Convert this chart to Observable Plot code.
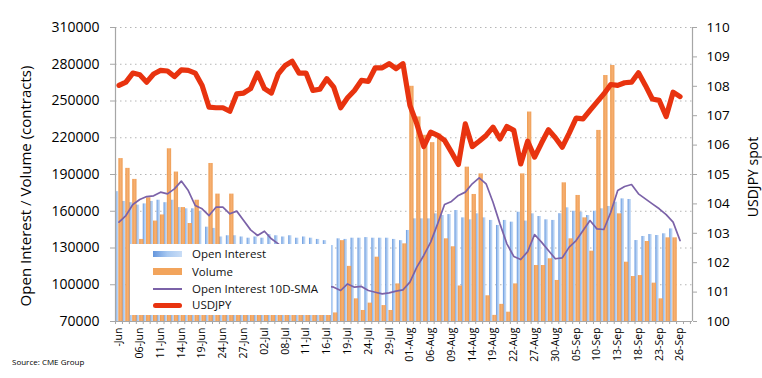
<!DOCTYPE html>
<html><head><meta charset="utf-8">
<script src="https://cdn.jsdelivr.net/npm/d3@7"></script>
<script src="https://cdn.jsdelivr.net/npm/@observablehq/plot@0.6"></script>
<style>
html,body{margin:0;padding:0;background:#fff;overflow:hidden;}
#wrap{position:relative;width:762px;height:378px;font-family:"Open Sans",sans-serif;}
#legend{position:absolute;left:130px;top:244px;width:201px;height:71px;background:#fff;}
.row{position:absolute;left:0;height:16px;width:201px;}
.sw{position:absolute;left:23px;width:29px;}
.lt{position:absolute;left:62px;top:0;font-size:11.5px;line-height:16px;color:#111;white-space:nowrap;}
#source{position:absolute;left:12px;top:356px;font-size:8px;color:#000;}
.ytitle{position:absolute;transform:translate(-50%,-50%) rotate(-90deg);white-space:nowrap;color:#000;line-height:1;}
</style></head>
<body><div id="wrap"></div>
<script>
// Tick labels (every 3rd trading day)
const tickLabels = ["-Jun","06-Jun","11-Jun","14-Jun","19-Jun","24-Jun","27-Jun","02-Jul","08-Jul","11-Jul","16-Jul","19-Jul","24-Jul","29-Jul","01-Aug","06-Aug","09-Aug","14-Aug","19-Aug","22-Aug","27-Aug","30-Aug","05-Sep","10-Sep","13-Sep","18-Sep","23-Sep","26-Sep"];
// Open interest (thousand contracts), one per trading day
const openInterest = [176,168,167,165,166,168,169,167,169,163,162,162,160,
 147,146,139,140,140,139,138,139,138,141,140,139,140,138,139,138,137,136,
 132,137.5,137,138,138,138.5,138,138,138,137,136,
 144.3,153.8,153.8,153.8,157.9,156.5,157.3,160.6,154.6,153,157.9,154.6,152.5,148.4,152.5,151.1,159.2,152,
 157.9,155.7,153,152.5,158,162.8,160,159.2,156.5,160,162,163.9,167.4,170.1,169.6,136.1,139.4,141,140.2,141.6,145.6];
// Volume (thousand contracts)
const volume = [203,195,186,137,171,152,157,211,192,163,150,169,128,
 199,174,120,174,110,105,100,110,98,105,95,90,100,95,88,85,80,78,
 77,136,115,88.5,79,85,122.5,83,79,100.7,133.4,
 262,237,222,216,223,137.5,131,99,196,173.7,190.5,91,75,84,77.6,100.7,190.5,241,
 115.7,115.7,121.2,103.5,183.2,137.5,172.9,154.6,127.4,226,270.8,279,157.9,118.4,106.7,107.5,135.3,101.3,88.5,138.3,138.3];
// Open interest 10D-SMA (thousand contracts)
const sma = [151.1,156.5,165.5,169.6,172.0,172.6,175.6,174.2,178.3,184.6,176.9,164.7,162.0,156.5,163.3,163.3,157.9,160.1,152.4,144.8,140.2,143.7,137.5,133.4,
 128,122,116,110,105,101,99,
 98.0,95.3,100.7,98.0,98.6,95.3,93.9,92.6,93.4,94.8,95.8,102.1,114.4,123.9,134.8,149.7,165.5,168.0,172.9,175.6,182.4,187.3,182.4,167.4,149.7,133.4,123.1,120.6,127,
 141.0,134.8,128.0,121.2,122.0,130.7,136.1,144.3,152.4,145.6,145.1,159.2,176.9,180.2,181.8,174.2,170.1,166.0,162.0,157.3,151.1,136.1];
// USDJPY spot
const usdjpy = [108.03,108.14,108.45,108.39,108.14,108.42,108.54,108.52,108.33,108.56,
 108.54,108.45,108.03,107.29,107.27,107.27,107.15,107.74,107.77,107.92,
 108.45,107.92,107.77,108.42,108.71,108.85,108.45,108.45,107.86,107.90,
 108.26,107.97,107.27,107.61,107.86,108.20,108.17,108.63,108.63,108.77,
 108.60,108.77,107.35,106.72,105.95,106.44,106.33,106.16,105.76,105.34,
 106.72,105.95,106.13,106.33,106.61,106.21,106.63,106.50,105.36,106.13,
 105.59,106.07,106.52,106.25,105.93,106.41,106.92,106.89,107.18,107.46,
 107.74,108.06,108.03,108.12,108.14,108.46,108.03,107.57,107.52,106.97,
 107.80,107.65];
const leftTicks = [70000,100000,130000,160000,190000,220000,250000,280000,310000];
const rightTicks = [100,101,102,103,104,105,106,107,108,109,110];

const yMin = 70000, yMax = 310000, jMin = 100, jMax = 110;
const toY = v => yMin + (v - jMin) * (yMax - yMin) / (jMax - jMin);
const fromY = y => jMin + (y - yMin) * (jMax - jMin) / (yMax - yMin);

const bars = openInterest.map((v, i) => ({i, oi: v * 1000, vol: volume[i] * 1000}));
const lines = usdjpy.map((v, i) => ({i, jpy: toY(v), sma: sma[i] * 1000}));
const labelIdx = tickLabels.map((_, k) => k * 3);
const xDom = [-0.505, 82.8];
const bounds = d3.range(0, 84).map(i => i - 0.5);

const chart = Plot.plot({
  width: 762, height: 378,
  marginTop: 27, marginBottom: 57, marginLeft: 115, marginRight: 70,
  style: {fontFamily: "Open Sans, sans-serif", background: "white"},
  x: {type: "linear", domain: xDom, axis: null},
  y: {type: "linear", domain: [yMin, yMax], axis: null},
  marks: [
    Plot.gridY(leftTicks.slice(1), {stroke: "#b5b5b5", strokeOpacity: 1, strokeDasharray: "1.5,3.5"}),
    Plot.rect(bars, {x1: d => d.i - 0.5, x2: d => d.i - 0.02, y1: yMin, y2: "oi", fill: "url(#blueGrad)"}),
    Plot.rect(bars, {x1: d => d.i - 0.02, x2: d => d.i + 0.6, y1: yMin, y2: "vol", fill: "url(#orangeGrad)"}),
    Plot.line(lines, {x: "i", y: "sma", stroke: "#7b62a8", strokeWidth: 1.7}),
    Plot.line(lines, {x: "i", y: "jpy", stroke: "#e8330f", strokeWidth: 5.2, strokeLinejoin: "round", strokeLinecap: "round"}),
    Plot.ruleX([xDom[0], xDom[1]], {stroke: "#a6a6a6", strokeWidth: 1.2}),
    Plot.ruleY([yMin], {stroke: "#a6a6a6", strokeWidth: 1.2}),
    Plot.axisY(leftTicks, {anchor: "left", tickSize: 5, tickPadding: 11, fontSize: 14, stroke: "#a6a6a6", tickFormat: d => String(d), label: null}),
    Plot.axisY(rightTicks.map(toY), {anchor: "right", tickSize: 4, tickPadding: 10, fontSize: 13.5, stroke: "#a6a6a6", tickFormat: d => String(Math.round(fromY(d))), label: null}),
    Plot.axisX(bounds, {anchor: "bottom", tickSize: 3, stroke: "#a6a6a6", tickFormat: () => "", label: null}),
    Plot.axisX(labelIdx, {anchor: "bottom", tickSize: 0, tickPadding: 6, tickRotate: -90, fontSize: 10.5, tickFormat: i => tickLabels[i / 3], label: null})
  ]
});

const defs = d3.select(chart).insert("defs", ":first-child");
const bg = defs.append("linearGradient").attr("id", "blueGrad").attr("x1", "0").attr("x2", "1").attr("y1", "0").attr("y2", "0");
bg.append("stop").attr("offset", "0").attr("stop-color", "#6596dc");
bg.append("stop").attr("offset", "0.5").attr("stop-color", "#a9c9f1");
bg.append("stop").attr("offset", "1").attr("stop-color", "#c9ddf6");
const og = defs.append("linearGradient").attr("id", "orangeGrad").attr("x1", "0").attr("x2", "1").attr("y1", "0").attr("y2", "0");
og.append("stop").attr("offset", "0").attr("stop-color", "#ee9a4e");
og.append("stop").attr("offset", "0.5").attr("stop-color", "#f6b072");
og.append("stop").attr("offset", "1").attr("stop-color", "#ee9e56");

const wrap = document.getElementById("wrap");
wrap.appendChild(chart);

function addTitle(text, x, y, size) {
  const t = document.createElement("div");
  t.className = "ytitle";
  t.style.left = x + "px"; t.style.top = y + "px"; t.style.fontSize = size + "px";
  t.textContent = text;
  wrap.appendChild(t);
}
addTitle("Open Interest / Volume (contracts)", 25, 186, 15);
addTitle("USDJPY spot", 753, 177, 14);

const legend = document.createElement("div");
legend.id = "legend";
const items = [
  {name: "Open Interest", top: 2, sw: "top:5px;height:6px;background:linear-gradient(90deg,#6596dc,#a9c9f1,#c9ddf6);"},
  {name: "Volume", top: 19.7, sw: "top:4.5px;height:7px;background:#f2a45c;"},
  {name: "Open Interest 10D-SMA", top: 37, sw: "top:7px;height:2px;background:#7b62a8;"},
  {name: "USDJPY", top: 53, sw: "top:5.5px;height:5px;border-radius:3px;background:#e8330f;"}
];
for (const it of items) {
  const r = document.createElement("div");
  r.className = "row"; r.style.top = it.top + "px";
  r.innerHTML = `<div class="sw" style="${it.sw}"></div><div class="lt">${it.name}</div>`;
  legend.appendChild(r);
}
wrap.appendChild(legend);

const src = document.createElement("div");
src.id = "source"; src.textContent = "Source: CME Group";
wrap.appendChild(src);
</script></body></html>
